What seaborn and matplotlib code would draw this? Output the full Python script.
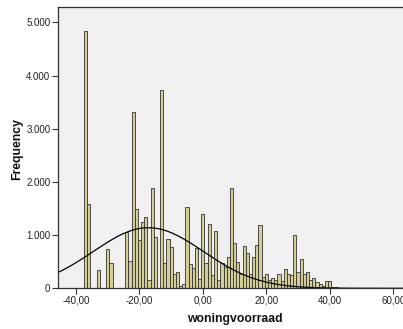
import numpy as np
import pandas as pd
import matplotlib
matplotlib.use("Agg")
import matplotlib.pyplot as plt
import seaborn as sns
from matplotlib.ticker import FixedLocator, FixedFormatter

# ---- data ----
bin_centers = list(range(-37, 47))  # bin width 1
counts = [
    4840, 1580, 0, 0, 340, 0, 0, 730, 470, 0,      # -37 .. -28
    0, 0, 0, 1050, 510, 3310, 1500, 900, 1250, 1350,  # -27 .. -18
    160, 1880, 960, 0, 3720, 470, 920, 770, 270, 310,  # -17 .. -8
    40, 80, 1520, 460, 390, 750, 170, 1390, 470, 1200,  # -7 .. 2
    250, 1070, 160, 470, 400, 580, 1880, 860, 500, 260,  # 3 .. 12
    800, 660, 270, 580, 810, 1190, 210, 270, 160, 190,  # 13 .. 22
    160, 270, 130, 360, 270, 250, 1000, 300, 560, 260,  # 23 .. 32
    310, 160, 200, 120, 90, 40, 140, 140, 30, 20,      # 33 .. 42
    0, 0, 10, 10,                                      # 43 .. 46
]
bin_edges = [c - 0.5 for c in bin_centers] + [bin_centers[-1] + 0.5]

# fitted normal curve parameters (as drawn in the reference)
curve_mean = -17.2
curve_sd = 17.4
curve_area = 49700  # N * bin width

x_ticks = [-40, -20, 0, 20, 40, 60]
x_tick_labels = ["-40,00", "-20,00", "0,00", "20,00", "40,00", "60,00"]
y_ticks = [0, 1000, 2000, 3000, 4000, 5000]
y_tick_labels = ["0", "1.000", "2.000", "3.000", "4.000", "5.000"]
x_label = "woningvoorraad"
y_label = "Frequency"

df = pd.DataFrame({"value": bin_centers, "count": counts})

# ---- figure ----
W, H = 403, 329
fig = plt.figure(figsize=(W / 100, H / 100), dpi=100)
fig.patch.set_facecolor("white")
ax = fig.add_axes([58 / W, (H - 288.3) / H, (W - 58) / W, (288.3 - 7) / H])
ax.set_facecolor("#F0F0F0")

sns.histplot(data=df, x="value", weights="count", bins=bin_edges, ax=ax,
             color="#D3CE96", edgecolor="#333333", linewidth=0.6, alpha=1.0)

xmin, xmax = -45.7, 63.1
xs = np.linspace(xmin, xmax, 400)
ys = curve_area / (curve_sd * np.sqrt(2 * np.pi)) * np.exp(-0.5 * ((xs - curve_mean) / curve_sd) ** 2)
sns.lineplot(x=xs, y=ys, ax=ax, color="black", linewidth=0.9)

ax.set_xlim(xmin, xmax)
ax.set_ylim(0, 5290)

ax.xaxis.set_major_locator(FixedLocator(x_ticks))
ax.xaxis.set_major_formatter(FixedFormatter(x_tick_labels))
ax.yaxis.set_major_locator(FixedLocator(y_ticks))
ax.yaxis.set_major_formatter(FixedFormatter(y_tick_labels))

for lab in ax.get_xticklabels() + ax.get_yticklabels():
    lab.set_fontfamily("Liberation Sans")
    lab.set_fontsize(7)
    lab.set_color("#222222")
ax.tick_params(axis="both", direction="out", length=4, width=0.8, color="#333333", pad=1.5)

for side in ["left", "bottom", "top"]:
    ax.spines[side].set_color("#333333")
    ax.spines[side].set_linewidth(0.9)
ax.spines["right"].set_visible(False)

ax.set_xlabel("")
ax.set_ylabel("")
fig.text(234.5 / W, (H - 319) / H, x_label, ha="center", va="center",
         fontsize=8.8, fontweight="bold", family="Liberation Sans", color="#111111")
fig.text(17.5 / W, (H - 149) / H, y_label, ha="center", va="center", rotation=90,
         fontsize=8.8, fontweight="bold", family="Liberation Sans", color="#111111")

fig.savefig("out.png", dpi=100, facecolor="white")
